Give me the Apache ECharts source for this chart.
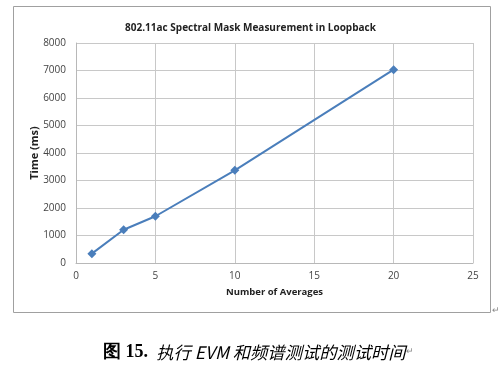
<!DOCTYPE html>
<html>
<head>
<meta charset="utf-8">
<script src="https://cdn.jsdelivr.net/npm/echarts@6/dist/echarts.min.js"></script>
<style>
html,body{margin:0;padding:0;background:#fff;}
#c{width:501px;height:374px;}
</style>
</head>
<body>
<div id="c"></div>
<script>
var titleText = '802.11ac Spectral Mask Measurement in Loopback';
var xName = 'Number of Averages';
var yName = 'Time (ms)';
var xValues = [1, 3, 5, 10, 20];
var yValues = [340, 1210, 1700, 3370, 7030];
var captionBold = '图 15.';
var captionItalic = '执行 EVM 和频谱测试的测试时间';

var chart = echarts.init(document.getElementById('c'), null, {renderer: 'canvas'});
var data = xValues.map(function (x, i) { return [x, yValues[i]]; });
chart.setOption({
  animation: false,
  backgroundColor: '#fff',
  title: {
    text: titleText,
    left: 'center',
    top: 18,
    textStyle: {fontFamily: 'Open Sans', fontSize: 10, fontWeight: 'bold', color: '#222'}
  },
  grid: {left: 76, right: 28, top: 43, bottom: 111},
  xAxis: {
    type: 'value', min: 0, max: 25, interval: 5,
    name: xName, nameLocation: 'middle', nameGap: 24,
    nameTextStyle: {fontFamily: 'Open Sans', fontSize: 9.5, fontWeight: 'bold', color: '#222'},
    axisLine: {show: true, lineStyle: {color: '#b8b8b8'}},
    axisTick: {show: false},
    axisLabel: {margin: 8, fontFamily: 'Open Sans', fontSize: 10, color: '#444'},
    splitLine: {show: true, lineStyle: {color: '#c8c8c8'}}
  },
  yAxis: {
    type: 'value', min: 0, max: 8000, interval: 1000,
    name: yName, nameLocation: 'middle', nameGap: 36, nameRotate: 90, nameMoveOverlap: false,
    nameTextStyle: {fontFamily: 'Open Sans', fontSize: 11, fontWeight: 'bold', color: '#222'},
    axisLine: {show: true, lineStyle: {color: '#b8b8b8'}},
    axisTick: {show: false},
    axisLabel: {margin: 10, fontFamily: 'Open Sans', fontSize: 10, color: '#444',
      formatter: function (v) { return String(v); }},
    splitLine: {show: true, lineStyle: {color: '#c8c8c8'}}
  },
  series: [{
    type: 'line',
    data: data,
    symbol: 'diamond',
    symbolSize: 9,
    lineStyle: {color: '#4a7ebb', width: 2},
    itemStyle: {color: '#4a7ebb'}
  }],
  graphic: [
    {type: 'rect', shape: {x: 13.5, y: 6.5, width: 477, height: 306}, style: {fill: 'none', stroke: '#a0a0a0', lineWidth: 1}, z: -1},
    {type: 'text', left: 492, top: 306, style: {text: '↵', fontSize: 9, fill: '#888'}},
    {type: 'text', left: 103, top: 343, style: {
      rich: {
        b: {fontFamily: 'Liberation Serif', fontSize: 18, fontWeight: 'bold', fill: '#000'},
        i: {fontFamily: 'Noto Sans CJK SC', fontSize: 17.3, fontStyle: 'italic', fill: '#000', padding: [0, 0, 0, 5]},
        r: {fontSize: 9, fill: '#888'}
      },
      text: '{b|' + captionBold + '} {i|' + captionItalic + '}{r|↵}'
    }}
  ]
});
</script>
</body>
</html>
